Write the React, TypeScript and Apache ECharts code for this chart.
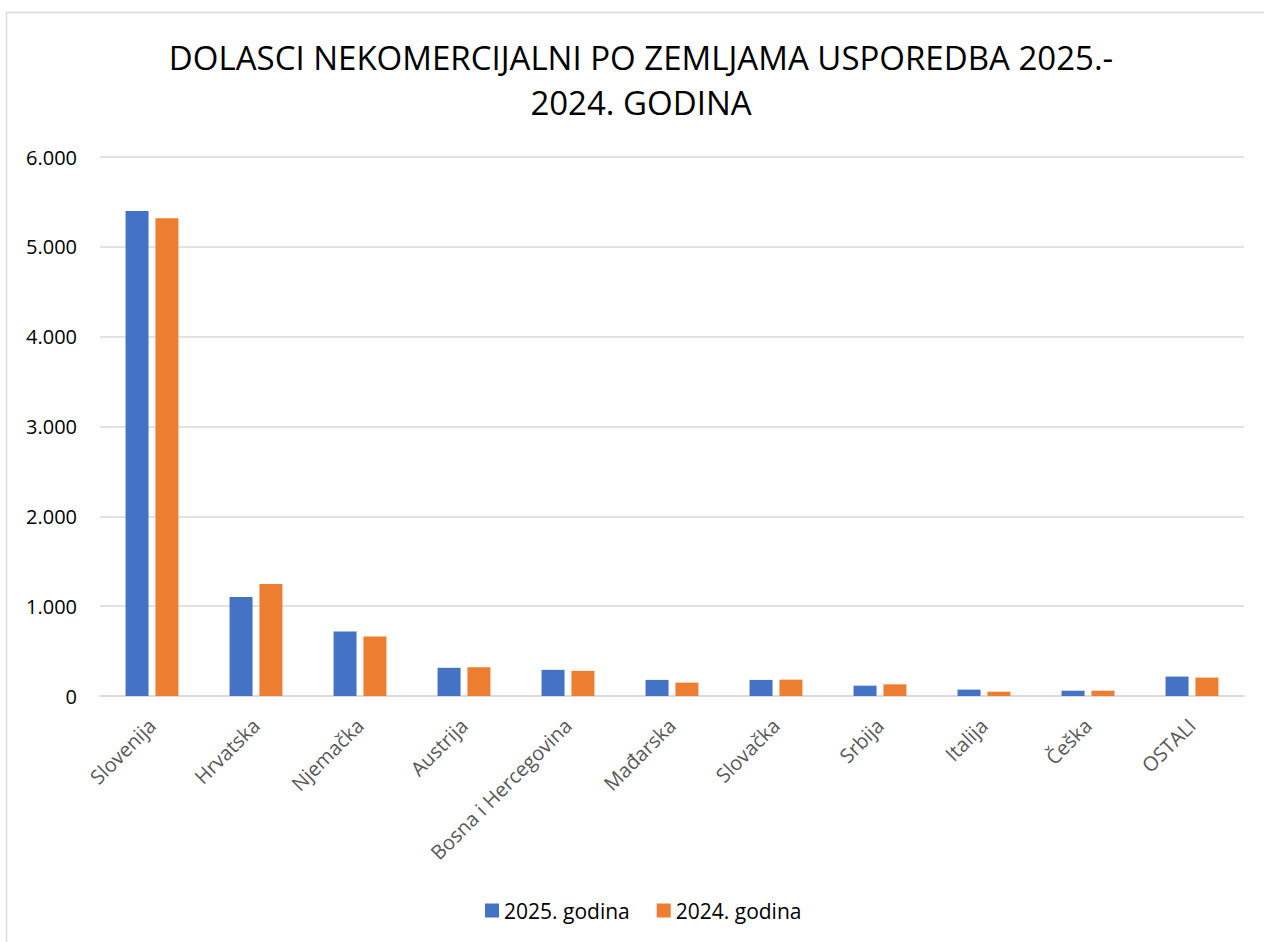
import React, { useEffect, useRef } from "react";
import * as echarts from "echarts";

const categories = ["Slovenija", "Hrvatska", "Njemačka", "Austrija", "Bosna i Hercegovina", "Mađarska", "Slovačka", "Srbija", "Italija", "Češka", "OSTALI"];
const series2025 = [5400, 1101, 717, 314, 291, 179, 179, 115, 71, 59, 216];
const series2024 = [5318, 1246, 661, 320, 280, 149, 182, 130, 48, 59, 205];
const seriesNames = ["2025. godina", "2024. godina"];
const titleText = "DOLASCI NEKOMERCIJALNI PO ZEMLJAMA USPOREDBA 2025.-\n2024. GODINA";

const FONT = "'Open Sans', Lato, sans-serif";

export default function App() {
  const ref = useRef<HTMLDivElement>(null);
  useEffect(() => {
    if (!ref.current) return;
    const chart = echarts.init(ref.current, null, { renderer: "svg" });
    chart.setOption({
      animation: false,
      backgroundColor: "#ffffff",
      textStyle: { fontFamily: FONT },
      graphic: [
        {
          type: "rect",
          shape: { x: 6.5, y: 12.5, width: 1300, height: 1000 },
          style: { fill: "none", stroke: "#d9d9d9", lineWidth: 1.5 },
          silent: true,
          z: -10,
        },
      ],
      title: {
        text: titleText,
        left: 636,
        textAlign: "center",
        top: 30,
        textStyle: {
          fontFamily: FONT,
          fontSize: 33,
          fontWeight: "normal",
          color: "#000000",
          lineHeight: 45,
        },
      },
      legend: {
        bottom: 16,
        left: 480,
        itemWidth: 14,
        itemHeight: 14,
        itemGap: 27,
        icon: "rect",
        textStyle: { fontFamily: FONT, fontSize: 21, color: "#000000" },
        data: seriesNames,
      },
      grid: { left: 100, right: 20, top: 157, bottom: 246, containLabel: false },
      xAxis: {
        type: "category",
        data: categories,
        axisLine: { lineStyle: { color: "#d9d9d9", width: 1.5 } },
        axisTick: { show: false },
        axisLabel: {
          rotate: 45,
          interval: 0,
          fontFamily: FONT,
          fontSize: 20,
          color: "#595959",
          margin: 26,
        },
      },
      yAxis: {
        type: "value",
        min: 0,
        max: 6000,
        interval: 1000,
        axisLine: { show: false },
        axisTick: { show: false },
        splitLine: { lineStyle: { color: "#d9d9d9", width: 1.5 } },
        axisLabel: {
          fontFamily: FONT,
          fontSize: 20,
          color: "#000000",
          margin: 23,
          formatter: (v: number) => (v === 0 ? "0" : v.toLocaleString("de-DE")),
        },
      },
      series: [
        {
          name: seriesNames[0],
          type: "bar",
          data: series2025,
          barWidth: 23,
          barGap: "30%",
          itemStyle: { color: "#4472c4" },
        },
        {
          name: seriesNames[1],
          type: "bar",
          data: series2024,
          barWidth: 23,
          itemStyle: { color: "#ed7d31" },
        },
      ],
    });
    return () => chart.dispose();
  }, []);
  return (
    <div
      ref={ref}
      style={{ position: "fixed", left: 0, top: 0, width: 1264, height: 942 }}
    />
  );
}
